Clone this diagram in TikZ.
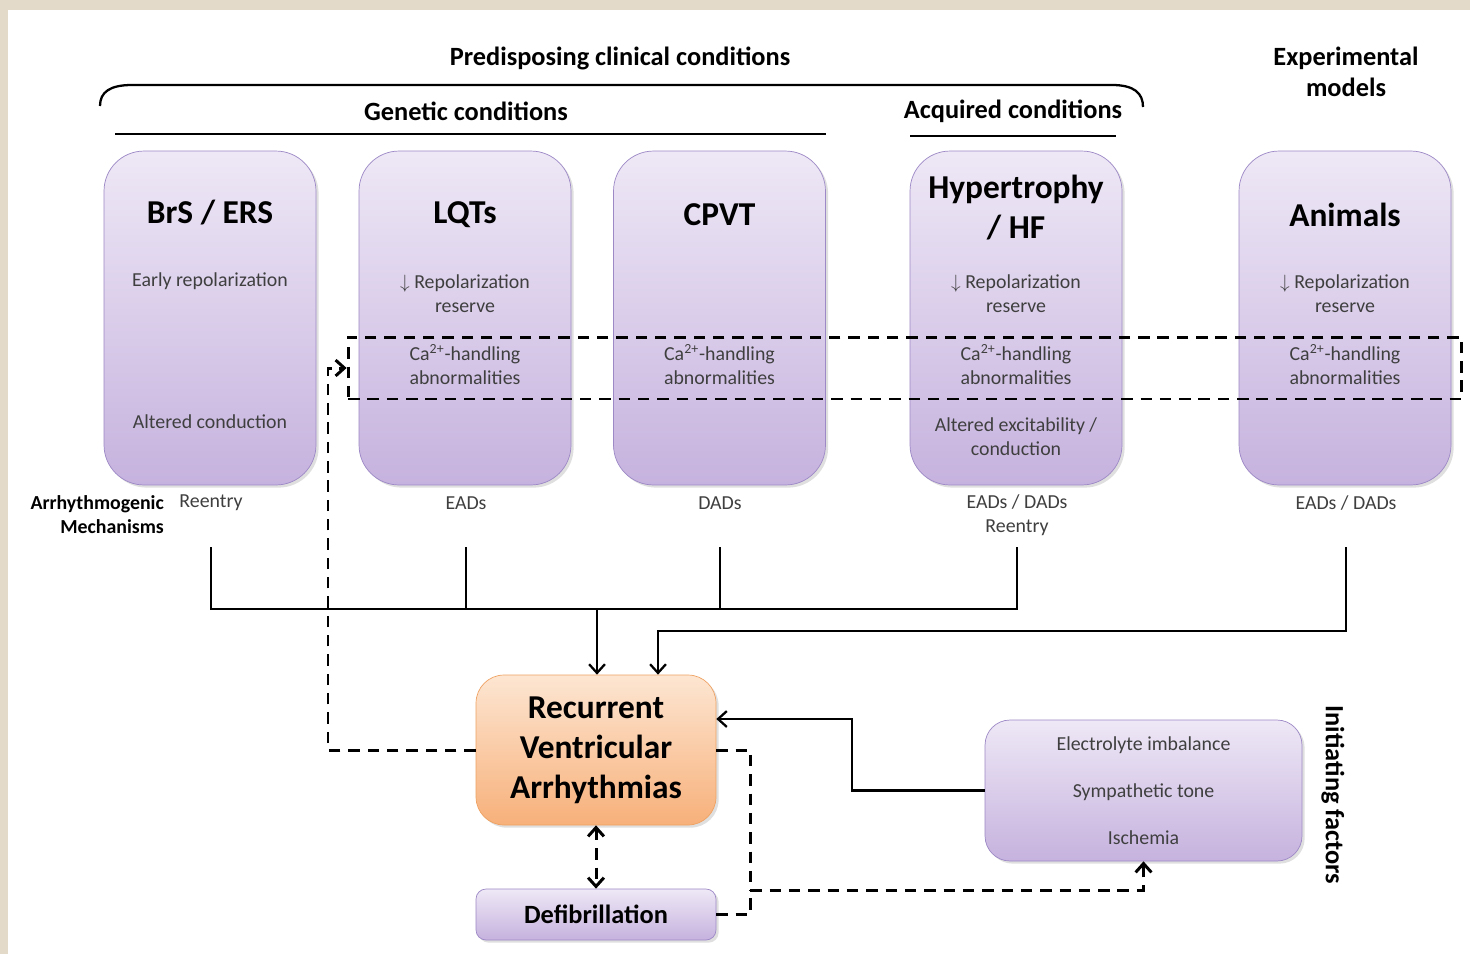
\documentclass[tikz,border=0pt]{standalone}
\usepackage{fontspec}
\setmainfont{Carlito}
\usetikzlibrary{arrows.meta,shadows}
\definecolor{paper}{HTML}{E4DACA}
\definecolor{lilactop}{HTML}{EEE8F6}
\definecolor{lilacbot}{HTML}{C6B2DE}
\definecolor{lilacedge}{HTML}{9D89C6}
\definecolor{peachtop}{HTML}{FDE6D2}
\definecolor{peachbot}{HTML}{F7B07A}
\definecolor{peachedge}{HTML}{EFA263}
\definecolor{ink}{HTML}{3F3F3F}
\newcommand{\sm}{\fontsize{11.3}{13.7}\selectfont}
\newcommand{\hd}{\bfseries\fontsize{15}{17.6}\selectfont}
\newcommand{\ttl}{\bfseries\fontsize{19}{22.8}\selectfont}
\newcommand{\repres}{$\downarrow$ Repolarization\\reserve}
\newcommand{\cahand}{Ca\textsuperscript{2+}-handling\\abnormalities}

\tikzset{
  boxshadow/.style={drop shadow={shadow xshift=1.5pt,shadow yshift=-1.5pt,opacity=0.25}},
  cond/.style={boxshadow,draw=lilacedge,top color=lilactop,bottom color=lilacbot,rounded corners=0.8cm,
    minimum width=4.24cm,minimum height=6.68cm,inner sep=0pt},
  txt/.style={font=\sm,text=ink,align=center,inner sep=1pt},
  head/.style={font=\hd,align=center,inner sep=1pt},
  line/.style={line width=1.3pt},
  dashline/.style={line width=1.7pt,dash pattern=on 6.5pt off 4.5pt},
  >={Straight Barb[length=5pt,width=9pt]}
}

\begin{document}
\begin{tikzpicture}[x=0.02cm,y=-0.02cm]
   \useasboundingbox (0,0) rectangle (1470,954);
   \fill[paper] (0,0) rectangle (1470,954);
   \fill[white] (8,10) rectangle (1470,954);

   % headings
   \node[head] (pcc) at (620,58) {Predisposing clinical conditions};
   \draw[line] (100,106) .. controls (100,92) and (110,85) .. (132,85) -- (1112,85)
               .. controls (1134,85) and (1143,93) .. (1143,107);
   \node[head] (gen) at (466,111) {Genetic conditions};
   \draw[line] (115,134) -- (826,134);
   \node[head] (acq) at (1013,111) {Acquired conditions};
   \draw[line] (910,136) -- (1116,136);
   \node[head] (exp) at (1346,72) {Experimental\\models};

   % condition boxes
   \node[cond] (brs) at (210,318) {};
   \node[cond] (lqt) at (465,318) {};
   \node[cond] (cpvt) at (719.5,318) {};
   \node[cond] (hf) at (1016,318) {};
   \node[cond] (ani) at (1345,318) {};

   \node[font=\ttl] at (210,213) {BrS / ERS};
   \node[font=\ttl] at (465,215) {LQTs};
   \node[font=\ttl] at (719.5,215) {CPVT};
   \node[font=\ttl,align=center] at (1016,208) {Hypertrophy\\/ HF};
   \node[font=\ttl] at (1345,215) {Animals};

   \node[txt] at (210,281) {Early repolarization};
   \node[txt] at (210,422) {Altered conduction};
   \node[txt] at (465,294) {\repres};
   \node[txt] at (465,365) {\cahand};
   \node[txt] at (719.5,365) {\cahand};
   \node[txt] at (1016,294) {\repres};
   \node[txt] at (1016,365) {\cahand};
   \node[txt] at (1016,437) {Altered excitability /\\conduction};
   \node[txt] at (1345,294) {\repres};
   \node[txt] at (1345,365) {\cahand};

   \node[draw,dashline,minimum width=22.28cm,minimum height=1.24cm,inner sep=0pt] (carow) at (905,368) {};

   % mechanisms
   \node[txt,font=\bfseries\sm,text=black,align=right,anchor=east] (mech) at (166,515) {Arrhythmogenic\\Mechanisms};
   \node[txt] (mbrs) at (211,503) {Reentry};
   \node[txt] (mlqt) at (466,503) {EADs};
   \node[txt] (mcpvt) at (720,503) {DADs};
   \node[txt] (mhf) at (1017,515) {EADs / DADs\\Reentry};
   \node[txt] (mani) at (1346,503) {EADs / DADs};

   % outcome
   \node[boxshadow,draw=peachedge,top color=peachtop,bottom color=peachbot,rounded corners=0.56cm,
         minimum width=4.8cm,minimum height=3cm,font=\ttl,align=center,
         inner sep=0pt] (rva) at (596,750) {Recurrent\\Ventricular\\Arrhythmias};
   \node[boxshadow,draw=lilacedge,top color=lilactop,bottom color=lilacbot,rounded corners=0.2cm,
         minimum width=4.8cm,minimum height=1.02cm,font=\bfseries\fontsize{15}{18}\selectfont,
         inner sep=0pt] (defib) at (596,914.5) {Defibrillation};
   \node[boxshadow,draw=lilacedge,top color=lilactop,bottom color=lilacbot,rounded corners=0.5cm,
         minimum width=6.34cm,minimum height=2.82cm,txt,font=\sm,
         inner sep=0pt] (init) at (1143.5,790.5) {Electrolyte imbalance\\[13pt]Sympathetic tone\\[13pt]Ischemia};
   \node[font=\bfseries\fontsize{15}{17}\selectfont,rotate=-90] (ifac) at (1333,795) {Initiating factors};

   % connectors
   \coordinate (top) at (0,547);
   \coordinate (bus) at (597,609);
   \coordinate (bus2) at (658,631);
   \coordinate (turnL) at (328,368);
   \coordinate (turnR) at (750,890);
   \coordinate (turnI) at (852,719);
   \draw[line] (mbrs |- top) -- (mbrs |- bus) -- (mhf |- bus) -- (mhf |- top);
   \draw[line] (mlqt |- top) -- (mlqt |- bus);
   \draw[line] (mcpvt |- top) -- (mcpvt |- bus);
   \draw[line,->] (bus) -- (bus |- rva.north);
   \draw[line,->] (mani |- top) |- (bus2) -- (bus2 |- rva.north);
   \draw[line,->] (init.west) -| (turnI) -- (turnI -| rva.east);
   \draw[dashline,->] (rva.west) -| (turnL) -- (carow.west);
   \draw[dashline,<->] (rva.south) -- (defib.north);
   \draw[dashline,->] (rva.east) -| (turnR) -| (init.south);
   \draw[dashline] (defib.east) -| (turnR);
\end{tikzpicture}
\end{document}
